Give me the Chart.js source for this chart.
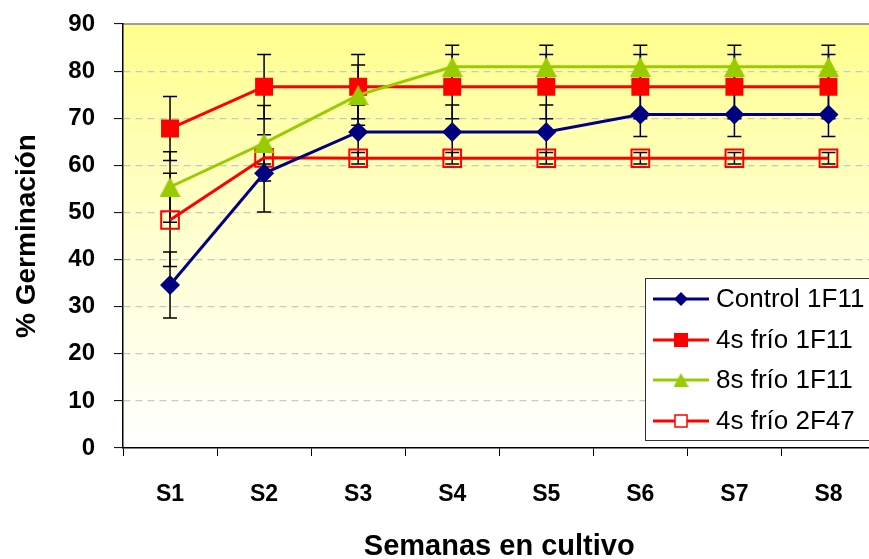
<!DOCTYPE html>
<html>
<head>
<meta charset="utf-8">
<script src="https://cdn.jsdelivr.net/npm/chart.js@4.4.0/dist/chart.umd.min.js"></script>
<style>
  html, body { margin: 0; padding: 0; background: #ffffff; overflow: hidden; width: 869px; height: 559px; }
  #wrap { position: relative; width: 890px; height: 559px; }
  #c { display: block; width: 890px; height: 559px; }
</style>
</head>
<body>
<div id="wrap"><canvas id="c" width="890" height="559"></canvas></div>
<script>
// Weeks in culture
const semanas = ['S1', 'S2', 'S3', 'S4', 'S5', 'S6', 'S7', 'S8'];

// Germination (%) and error per treatment
const control1F11    = [34.6, 58.3, 67.1, 67.1, 67.1, 70.8, 70.8, 70.8];
const control1F11Err = [7.0, 8.2, 5.7, 5.7, 5.7, 4.7, 4.7, 4.7];

const frio4s1F11     = [67.8, 76.7, 76.7, 76.7, 76.7, 76.7, 76.7, 76.7];
const frio4s1F11Err  = [6.8, 6.8, 6.8, 6.8, 6.8, 6.8, 6.8, 6.8];

const frio8s1F11     = [55.4, 64.7, 74.9, 80.9, 80.9, 80.9, 80.9, 80.9];
const frio8s1F11Err  = [7.5, 8.0, 6.4, 4.6, 4.6, 4.6, 4.6, 4.6];

const frio4s2F47     = [48.4, 61.6, 61.5, 61.5, 61.5, 61.5, 61.5, 61.5];
const frio4s2F47Err  = [9.9, 1.3, 1.2, 1.2, 1.2, 1.2, 1.2, 1.2];

const yTicks = [0, 10, 20, 30, 40, 50, 60, 70, 80, 90];

const seriesNames = ['Control 1F11', '4s frío 1F11', '8s frío 1F11', '4s frío 2F47'];
const errors = [control1F11Err, frio4s1F11Err, frio8s1F11Err, frio4s2F47Err];

const NAVY = '#000080', RED = '#FF0000', GREEN = '#99CC00';
const FONT = '"Liberation Sans", Arial, sans-serif';

// Triangle marker with its box centred on the value
function triangleMarker(w, h, color) {
  const cv = document.createElement('canvas');
  cv.width = w; cv.height = h;
  const g = cv.getContext('2d');
  g.fillStyle = color;
  g.beginPath();
  g.moveTo(w / 2, 0);
  g.lineTo(w, h);
  g.lineTo(0, h);
  g.closePath();
  g.fill();
  return cv;
}
const triMarker = triangleMarker(21, 20, GREEN);

// Plot-area gradient and frame
const plotBackground = {
  id: 'plotBackground',
  beforeDraw(chart) {
    const { ctx, chartArea: a } = chart;
    const grad = ctx.createLinearGradient(0, a.top, 0, a.bottom);
    grad.addColorStop(0, '#FFFF8C');
    grad.addColorStop(0.5, '#FFFFD0');
    grad.addColorStop(1, '#FFFFFF');
    ctx.save();
    ctx.fillStyle = grad;
    ctx.fillRect(a.left, a.top, a.right - a.left, a.bottom - a.top);
    ctx.strokeStyle = '#808080';
    ctx.lineWidth = 1.5;
    ctx.beginPath();
    ctx.moveTo(a.left, a.top);
    ctx.lineTo(a.right, a.top);
    ctx.lineTo(a.right, a.bottom);
    ctx.stroke();
    ctx.restore();
  }
};

// Vertical error bars with caps
const errorBars = {
  id: 'errorBars',
  beforeDatasetsDraw(chart) {
    const { ctx, scales: { x, y } } = chart;
    ctx.save();
    ctx.strokeStyle = '#000000';
    ctx.lineWidth = 1.5;
    chart.data.datasets.forEach((ds, di) => {
      const err = errors[di];
      ds.data.forEach((v, i) => {
        const px = x.getPixelForValue(i);
        const yt = y.getPixelForValue(v + err[i]);
        const yb = y.getPixelForValue(v - err[i]);
        ctx.beginPath();
        ctx.moveTo(px, yt); ctx.lineTo(px, yb);
        ctx.moveTo(px - 7, yt); ctx.lineTo(px + 7, yt);
        ctx.moveTo(px - 7, yb); ctx.lineTo(px + 7, yb);
        ctx.stroke();
      });
    });
    ctx.restore();
  }
};

// Boxed legend with line-and-marker samples
const boxLegend = {
  id: 'boxLegend',
  afterDraw(chart) {
    const { ctx } = chart;
    const left = 645, top = 278, bottom = 440, right = 886;
    ctx.save();
    ctx.fillStyle = '#FFFFFF';
    ctx.fillRect(left, top, right - left, bottom - top);
    ctx.strokeStyle = '#333333';
    ctx.lineWidth = 1;
    ctx.strokeRect(left + 0.5, top + 0.5, right - left, bottom - top);
    const rows = [299, 340, 380, 421];
    chart.data.datasets.forEach((ds, i) => {
      const yy = rows[i];
      ctx.strokeStyle = ds.borderColor;
      ctx.lineWidth = 3;
      ctx.beginPath();
      ctx.moveTo(653, yy); ctx.lineTo(709, yy);
      ctx.stroke();
      const cx = 681;
      if (i === 0) {
        ctx.fillStyle = NAVY;
        ctx.beginPath();
        ctx.moveTo(cx, yy - 7); ctx.lineTo(cx + 7, yy); ctx.lineTo(cx, yy + 7); ctx.lineTo(cx - 7, yy);
        ctx.closePath(); ctx.fill();
      } else if (i === 1) {
        ctx.fillStyle = RED;
        ctx.fillRect(cx - 7, yy - 7, 14, 14);
      } else if (i === 2) {
        ctx.drawImage(triangleMarker(15, 14, GREEN), cx - 7.5, yy - 7);
      } else {
        ctx.fillStyle = '#FFFFFF';
        ctx.fillRect(cx - 6, yy - 6, 12, 12);
        ctx.strokeStyle = RED;
        ctx.lineWidth = 1.5;
        ctx.strokeRect(cx - 6, yy - 6, 12, 12);
      }
      ctx.fillStyle = '#000000';
      ctx.font = '26px ' + FONT;
      ctx.textBaseline = 'middle';
      ctx.textAlign = 'left';
      ctx.fillText(seriesNames[i], 716, yy + 1);
    });
    ctx.restore();
  }
};

new Chart(document.getElementById('c'), {
  type: 'line',
  data: {
    labels: semanas,
    datasets: [
      {
        label: seriesNames[0], data: control1F11, order: 0,
        borderColor: NAVY, backgroundColor: NAVY, borderWidth: 3,
        pointStyle: 'rectRot', pointRadius: 10, pointBorderWidth: 0,
        pointBackgroundColor: NAVY
      },
      {
        label: seriesNames[1], data: frio4s1F11, order: 2,
        borderColor: RED, backgroundColor: RED, borderWidth: 3,
        pointStyle: 'rect', pointRadius: 12.7, pointBorderWidth: 0,
        pointBackgroundColor: RED
      },
      {
        label: seriesNames[2], data: frio8s1F11, order: 1,
        borderColor: GREEN, backgroundColor: GREEN, borderWidth: 3,
        pointStyle: triMarker, pointRadius: 10
      },
      {
        label: seriesNames[3], data: frio4s2F47, order: 3,
        borderColor: RED, backgroundColor: RED, borderWidth: 3,
        pointStyle: 'rect', pointRadius: 12.5, pointBorderWidth: 2,
        pointBorderColor: RED, pointBackgroundColor: 'rgba(0,0,0,0)'
      }
    ]
  },
  options: {
    responsive: false,
    animation: false,
    devicePixelRatio: 1,
    layout: { padding: { top: 24, right: 10, bottom: 0, left: 0 } },
    plugins: {
      legend: { display: false },
      tooltip: { enabled: false }
    },
    scales: {
      x: {
        offset: true,
        grid: {
          offset: true, drawOnChartArea: false, drawTicks: true,
          tickLength: 8, tickColor: '#000000', tickWidth: 1
        },
        border: { display: true, color: '#000000', width: 1.5 },
        ticks: {
          color: '#000000', padding: 25,
          font: { family: FONT, size: 23, weight: 'bold' }
        },
        title: {
          display: true, text: 'Semanas en cultivo', color: '#000000',
          padding: { top: 0, bottom: -5 },
          font: { family: FONT, size: 29, weight: 'bold' }
        },
        afterFit(scale) {
          scale.height = 111;
          scale.paddingLeft = 0; scale.paddingRight = 0;
        }
      },
      y: {
        min: 0, max: 90,
        afterBuildTicks(scale) { scale.ticks = yTicks.map(v => ({ value: v })); },
        grid: {
          color: (c) => (c.tick && (c.tick.value === 0 || c.tick.value === 90)) ? 'rgba(0,0,0,0)' : '#C8C8C8',
          lineWidth: 1.2,
          tickLength: 9, tickColor: '#000000', tickWidth: 1, tickBorderDash: []
        },
        border: { display: true, color: '#000000', width: 1.5, dash: [7, 5] },
        ticks: {
          color: '#000000', padding: 19,
          font: { family: FONT, size: 24, weight: 'bold' }
        },
        title: {
          display: true, text: '% Germinación', color: '#000000',
          padding: { top: 10, bottom: 0 },
          font: { family: FONT, size: 28, weight: 'bold' }
        },
        afterFit(scale) {
          scale.width = 123;
          scale.paddingTop = 0; scale.paddingBottom = 0;
        }
      }
    }
  },
  plugins: [plotBackground, errorBars, boxLegend]
});
</script>
</body>
</html>
